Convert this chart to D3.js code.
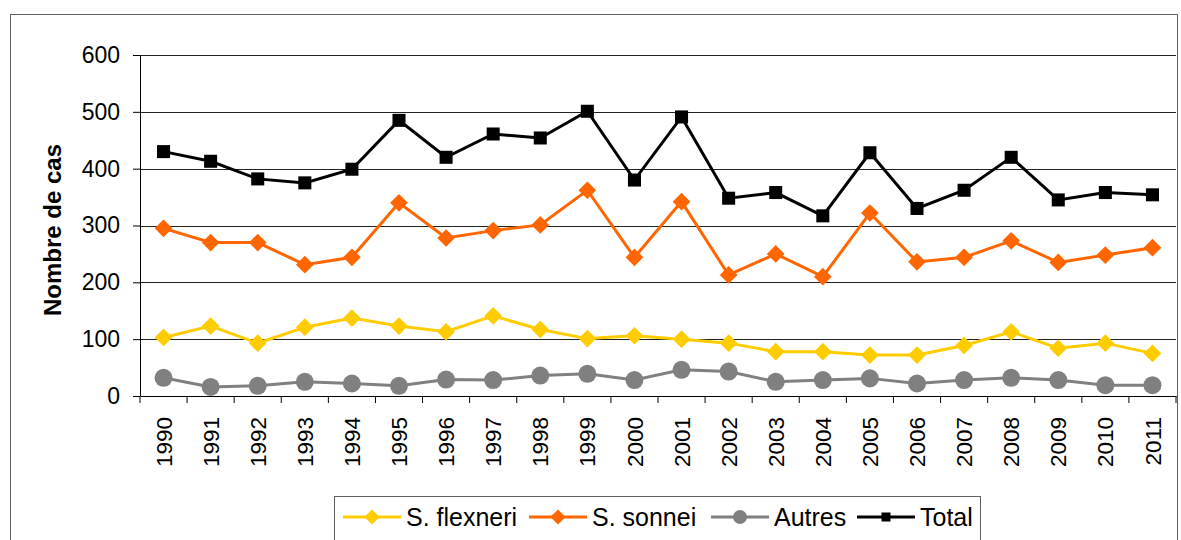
<html>
<head>
  <script src="https://d3js.org/d3.v7.min.js"></script>
  <style>
    body{ margin:0; background:#fff; }
    svg{ display:block; font-family: "Liberation Sans", Arial, sans-serif; }
  </style>
</head>
<body>
  <script type="text/javascript">

    var years = ["1990","1991","1992","1993","1994","1995","1996","1997","1998","1999","2000",
                 "2001","2002","2003","2004","2005","2006","2007","2008","2009","2010","2011"];
    var flexneri = [103,123,93,121,137,123,113,141,117,101,106,100,93,78,78,72,72,89,113,84,93,75];
    var sonnei   = [295,270,270,231,244,340,278,291,301,362,244,342,213,250,210,322,236,244,273,235,248,261];
    var autres   = [32,16,18,25,22,18,29,28,36,39,28,46,43,25,28,31,22,28,32,28,19,19];
    var total    = [430,413,382,375,399,485,420,461,454,501,380,491,348,358,317,428,330,362,420,345,358,354];
    var yTicks   = [0,100,200,300,400,500,600];

    var series = [
      {name:"S. flexneri", values:flexneri, color:"#FFCC00", marker:"diamond"},
      {name:"S. sonnei",   values:sonnei,   color:"#FF6600", marker:"diamond"},
      {name:"Autres",      values:autres,   color:"#808080", marker:"circle"},
      {name:"Total",       values:total,    color:"#000000", marker:"square"}
    ];

    var W = 1181, H = 540;
    var margins = {top:55, right:5, bottom:144, left:140};
    var svg = d3.select("body").append("svg")
        .attr("width", W)
        .attr("height", H);

    // outer frame
    svg.append("rect")
       .attr("x", 10.5).attr("y", 14.5)
       .attr("width", 1167).attr("height", 560)
       .attr("fill", "none").attr("stroke", "#606060").attr("stroke-width", 1);

    var width = W - margins.left - margins.right;
    var height = H - margins.top - margins.bottom;

    var xScale = d3.scaleBand().domain(years).range([0, width]);
    var yScale = d3.scaleLinear().domain([0, 600]).range([height, 0]);

    var plot = svg.append("g")
        .attr("transform", "translate(" + margins.left + "," + margins.top + ")");

    // grid
    plot.selectAll("line.grid")
        .data(yTicks.filter(function(d){return d > 0}))
        .enter().append("line")
        .attr("class", "grid")
        .attr("x1", 0).attr("x2", width)
        .attr("y1", function(d){return Math.round(yScale(d)) + 0.5})
        .attr("y2", function(d){return Math.round(yScale(d)) + 0.5})
        .attr("stroke", "#222").attr("stroke-width", 1);

    // axes
    var yAxis = d3.axisLeft(yScale).tickValues(yTicks).tickSize(7).tickPadding(13).tickSizeOuter(0);
    var gy = plot.append("g").call(yAxis);
    gy.selectAll("text").attr("font-size", 23).attr("fill", "#000")
      .style("font-family", "'Liberation Sans', Arial, sans-serif");
    gy.selectAll("line").attr("stroke", "#000");
    gy.select(".domain").attr("stroke", "#000");

    var xAxis = d3.axisBottom(xScale).tickSize(0).tickSizeOuter(0);
    var gx = plot.append("g").attr("transform", "translate(0," + height + ")").call(xAxis);
    gx.select(".domain").attr("stroke", "#000");
    gx.selectAll("text")
      .attr("font-size", 22.5).attr("fill", "#000")
      .style("font-family", "'Liberation Sans', Arial, sans-serif")
      .attr("text-anchor", "end")
      .attr("transform", "rotate(-90)")
      .attr("x", -21).attr("y", 0).attr("dy", "0.36em");
    // category boundary ticks
    gx.selectAll("line.bound")
      .data(years.concat(["end"]))
      .enter().append("line")
      .attr("class", "bound")
      .attr("x1", function(d,i){return i * xScale.step()})
      .attr("x2", function(d,i){return i * xScale.step()})
      .attr("y1", 0).attr("y2", 7)
      .attr("stroke", "#000");

    // y label
    svg.append("text")
       .attr("transform", "translate(61,230) rotate(-90)")
       .attr("text-anchor", "middle")
       .attr("font-size", 24).attr("font-weight", "bold")
       .text("Nombre de cas");

    function markerPath(type, size){
      if(type === "diamond") return d3.symbol().type(d3.symbolSquare2).size(size)();
      if(type === "square") return d3.symbol().type(d3.symbolSquare).size(size)();
      return d3.symbol().type(d3.symbolCircle).size(size)();
    }
    function markerTransform(type){ return type === "diamond" ? " rotate(45)" : ""; }

    var line = d3.line()
        .x(function(d,i){return xScale(years[i]) + xScale.bandwidth()/2})
        .y(function(d){return yScale(d)});

    var sizes = {diamond:200, circle:255, square:170};

    series.forEach(function(s){
      var g = plot.append("g");
      g.append("path")
       .attr("d", line(s.values))
       .attr("fill", "none").attr("stroke", s.color).attr("stroke-width", 3);
      g.selectAll("path.m")
       .data(s.values).enter().append("path")
       .attr("class", "m")
       .attr("d", function(){return markerPath(s.marker, sizes[s.marker])})
       .attr("transform", function(d,i){
         return "translate(" + (xScale(years[i]) + xScale.bandwidth()/2) + "," + yScale(d) + ")" + markerTransform(s.marker);
       })
       .attr("fill", s.color);
    });

    // legend
    var legend = svg.append("g");
    legend.append("rect")
      .attr("x", 334.5).attr("y", 496.5).attr("width", 646).attr("height", 60)
      .attr("fill", "#fff").attr("stroke", "#606060").attr("stroke-width", 1);
    var legX = [343, 529, 711, 857];
    var legSizes = {diamond:145, circle:150, square:81};
    var items = legend.selectAll("g.item").data(series).enter().append("g")
      .attr("class", "item")
      .attr("transform", function(d,i){return "translate(" + legX[i] + ",517)"});
    items.append("line")
      .attr("x1", 0).attr("x2", 58).attr("y1", 0).attr("y2", 0)
      .attr("stroke", function(d){return d.color}).attr("stroke-width", 3);
    items.append("path")
      .attr("d", function(d){return markerPath(d.marker, legSizes[d.marker])})
      .attr("transform", function(d){return "translate(29,0)" + markerTransform(d.marker)})
      .attr("fill", function(d){return d.color});
    items.append("text")
      .attr("x", 63).attr("y", 0).attr("dy", "0.36em")
      .attr("font-size", 25)
      .text(function(d){return d.name});

  </script>
</body>
</html>
